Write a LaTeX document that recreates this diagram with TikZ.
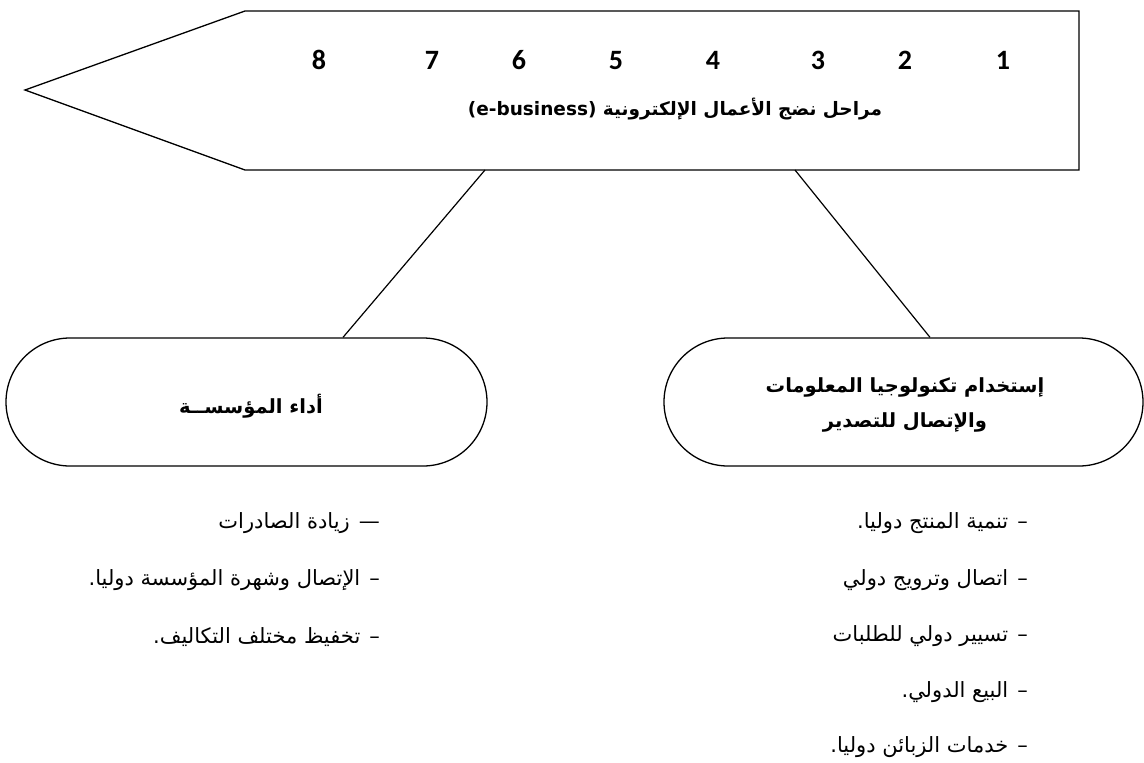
\documentclass[tikz,border=0pt]{standalone}
\usepackage{fontspec}
\usetikzlibrary{shapes.misc,calc}
\TeXXeTstate=1
\newfontfamily\arabicfont[Script=Arabic]{DejaVu Sans}
\newfontfamily\digitfont[Numbers=Lining]{Carlito}

\tikzset{
  outline/.style={draw=black, line width=1.3pt},
  stadium/.style={outline, rounded rectangle, rounded rectangle arc length=180,
    minimum height=128pt, inner sep=0pt, align=center},
  stagenum/.style={anchor=base, inner sep=0pt, font=\digitfont\bfseries\fontsize{28}{32}\selectfont},
  headline/.style={font=\arabicfont\bfseries\fontsize{18.5}{22}\selectfont},
  boxtitle/.style={font=\arabicfont\bfseries\fontsize{19.5}{35}\selectfont, align=center},
  listitem/.style={anchor=east, inner sep=0pt, font=\arabicfont\fontsize{21}{24}\selectfont},
  link/.style={draw=black, line width=1.2pt}
}
% dash that opens each list line, followed by a wide gap
\newcommand{\itemdash}{–\hspace{9pt}}
\newcommand{\itemrule}{—\hspace{9pt}}

\begin{document}
\begin{tikzpicture}[x=1pt, y=-1pt]
\useasboundingbox (0,0) rectangle (1144,763);

% stage banner pointing left
\coordinate (tip) at (25,90);
\coordinate (tl) at (245,11);
\coordinate (tr) at (1079,11);
\coordinate (br) at (1079,170);
\coordinate (bl) at (245,170);
\draw[outline, line join=miter] (tip) -- (tl) -- (tr) -- (br) -- (bl) -- cycle;
\coordinate (footL) at (485,170);
\coordinate (footR) at (795,170);

% stage numbers
\foreach \n/\x in {8/319, 7/432, 6/519, 5/616, 4/713, 3/818, 2/905, 1/1003}
  \node[stagenum] (stage\n) at (\x,69.5) {\n};

\node[headline] (title) at (675,109)
  {\beginR مراحل نضج الأعمال الإلكترونية \beginL(e-business)\endL\endR};

% the two branches
\node[stadium, minimum width=481pt] (perf) at (246.5,402) {};
\node[boxtitle] (perftext) at (251,406) {\beginR أداء المؤسســة\endR};

\node[stadium, minimum width=479pt] (ict) at (903.5,402) {};
\node[boxtitle] (icttext) at (905,405)
  {\beginR إستخدام تكنولوجيا المعلومات\endR\\ \beginR والإتصال للتصدير\endR};

\draw[link] (footL) -- ($(perf.north)+(96.5,0)$);
\draw[link] (footR) -- ($(ict.north)+(26.5,0)$);

% outcomes of firm performance
\node[listitem] (p1) at (380,523) {\beginR \itemrule زيادة الصادرات\endR};
\node[listitem] (p2) at (380,580) {\beginR \itemdash الإتصال وشهرة المؤسسة دوليا.\endR};
\node[listitem] (p3) at (380,637) {\beginR \itemdash تخفيظ مختلف التكاليف.\endR};

% uses of ICT for export
\node[listitem] (u1) at (1028,523) {\beginR \itemdash تنمية المنتج دوليا.\endR};
\node[listitem] (u2) at (1028,580) {\beginR \itemdash اتصال وترويج دولي\endR};
\node[listitem] (u3) at (1028,636) {\beginR \itemdash تسيير دولي للطلبات\endR};
\node[listitem] (u4) at (1028,692) {\beginR \itemdash البيع الدولي.\endR};
\node[listitem] (u5) at (1028,747) {\beginR \itemdash خدمات الزبائن دوليا.\endR};
\end{tikzpicture}
\end{document}
